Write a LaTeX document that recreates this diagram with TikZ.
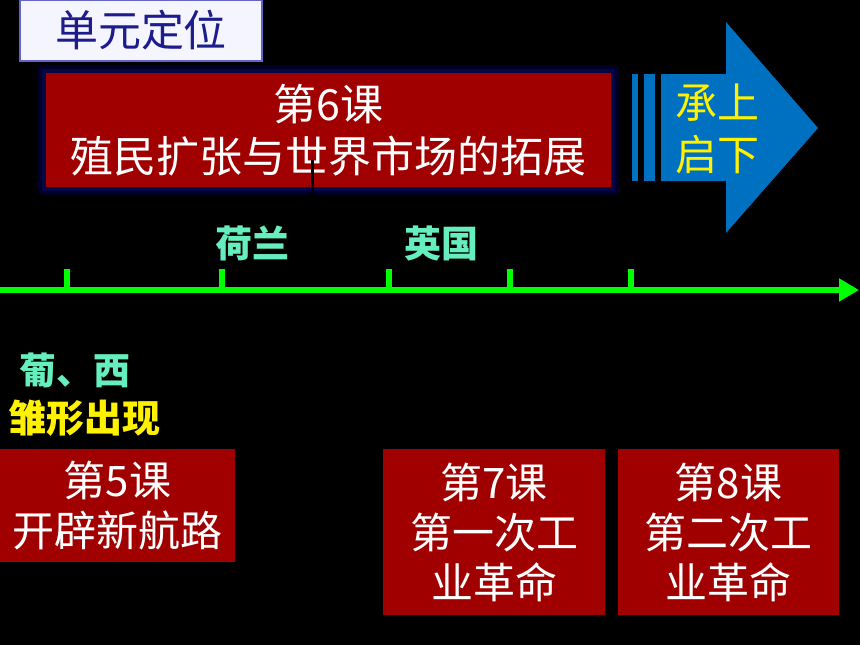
\documentclass[tikz,border=0pt]{standalone}
\usepackage{fontspec}
\newfontfamily\cjk{Noto Sans CJK SC}
\usetikzlibrary{arrows.meta}

\definecolor{lessonred}{RGB}{160,0,0}
\definecolor{arrowblue}{RGB}{0,112,192}
\definecolor{mint}{RGB}{102,238,190}
\definecolor{navyglow}{RGB}{0,0,38}
\definecolor{navyinner}{RGB}{6,6,70}
\definecolor{titleblue}{RGB}{28,28,140}
\definecolor{titleedge}{RGB}{100,100,200}
\definecolor{lineGreen}{RGB}{0,255,0}

\tikzset{
  lesson/.style={fill=lessonred, text=white, inner sep=0pt, align=center,
    font=\cjk\fontsize{42}{50}\selectfont},
  country/.style={text=mint, inner sep=0pt, font=\cjk\bfseries\fontsize{37}{40}\selectfont},
  tick/.style={lineGreen, line width=6pt}
}

\begin{document}
\begin{tikzpicture}[x=1pt, y=-1pt]
\fill[black] (0,0) rectangle (860,645); % background, fixes the page size
\useasboundingbox (0,0) rectangle (860,645);

% title box
\node[draw=titleedge, line width=1.5pt, fill=white!96!blue, minimum width=242pt, minimum height=61pt,
  text=titleblue, font=\cjk\fontsize{43}{46}\selectfont] (T) at (141,30.5) {单元定位};

% lesson 6 with its dark glow
\fill[navyglow, rounded corners=4pt] (38,65) rectangle (619,195);
\fill[navyinner] (42,69) rectangle (615,191);
\node[lesson, font=\cjk\fontsize{43}{52}\selectfont, minimum width=565pt, minimum height=114pt] (L6) at (328.5,130) {第6课\\殖民扩张与世界市场的拓展};
\draw[black, line width=3pt] (312,160) -- (312,197);

% the big blue arrow, 2 stripes then body and head
\fill[arrowblue] (632,74) rectangle (638,181);
\fill[arrowblue] (644,74) rectangle (655,181);
\fill[arrowblue] (661,74) -- (726,74) -- (726,22) -- (818,128) -- (726,233) -- (726,181) -- (661,181) -- cycle;
\node[text=yellow, align=center, inner sep=0pt, font=\cjk\fontsize{42}{52}\selectfont] (CS) at (717,129) {承上\\启下};

% timeline
\coordinate (t0) at (0,290);
\coordinate (t1) at (859,290);
\draw[lineGreen, line width=6pt, -{Triangle[length=20pt,width=22pt]}] (t0) -- (t1);
\draw[tick] (67,269) -- (67,290);
\draw[tick] (222,269) -- (222,290);
\draw[tick] (389,269) -- (389,290);
\draw[tick] (510,269) -- (510,290);
\draw[tick] (631,269) -- (631,290);

\node[country] (NL) at (252,243) {荷兰};
\node[country] (GB) at (441,243) {英国};
\node[country, anchor=west] (PS) at (19,370) {葡、西};
\node[text=yellow, inner sep=0pt, anchor=west, font=\cjk\bfseries\fontsize{38}{40}\selectfont] (YX) at (8,418) {雏形出现};

% lessons below the line
\node[lesson, minimum width=235pt, minimum height=113pt] (L5) at (117.5,505.5) {第5课\\开辟新航路};
\node[lesson, minimum width=222pt, minimum height=166pt] (L7) at (494,532) {第7课\\第一次工\\业革命};
\node[lesson, minimum width=221pt, minimum height=166pt] (L8) at (728.5,532) {第8课\\第二次工\\业革命};
\end{tikzpicture}
\end{document}
